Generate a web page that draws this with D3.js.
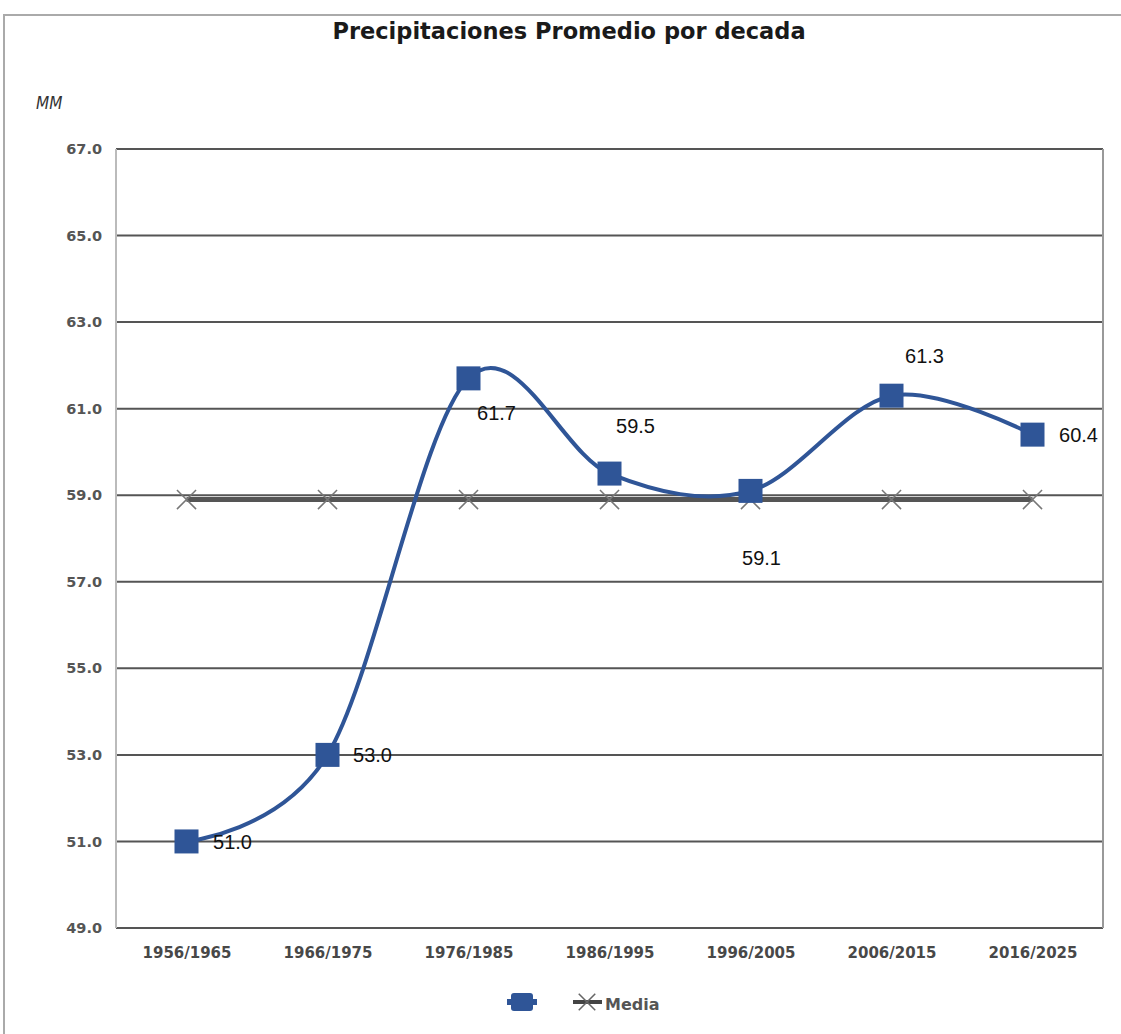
<!DOCTYPE html>
<html>
<head>
<meta charset="utf-8">
<script src="https://cdn.jsdelivr.net/npm/d3@7"></script>
<style>
    body { margin: 0; background: #fff; }
    svg { display: block; }
</style>
</head>
<body>
<div id="chart"></div>
<script>
const decades = ["1956/1965", "1966/1975", "1976/1985", "1986/1995", "1996/2005", "2006/2015", "2016/2025"];
const rainfall = [51.0, 53.0, 61.7, 59.5, 59.1, 61.3, 60.4];
const media = [58.9, 58.9, 58.9, 58.9, 58.9, 58.9, 58.9];
const yTicks = [49, 51, 53, 55, 57, 59, 61, 63, 65, 67];
// label offsets relative to the point (as placed in the original chart)
const labelDx = [46, 45, 28, 26, 11, 33, 46];
const labelDy = [8, 7, 42, -41, 74, -33, 7];

const W = 1121, H = 1034;
const margin = {top: 149, right: 18, bottom: 106, left: 116};
const width = W - margin.left - margin.right,
      height = H - margin.top - margin.bottom;

const svg = d3.select("#chart").append("svg")
    .attr("width", W)
    .attr("height", H);

// outer frame
svg.append("path")
    .attr("d", "M4,1034 V15 H1121")
    .attr("fill", "none")
    .attr("stroke", "#aaa")
    .attr("stroke-width", 2);

svg.append("text")
    .attr("x", 569)
    .attr("y", 39)
    .attr("text-anchor", "middle")
    .attr("font-family", "DejaVu Sans")
    .attr("font-weight", "bold")
    .attr("font-size", 22.5)
    .attr("fill", "#1a1a1a")
    .text("Precipitaciones Promedio por decada");

svg.append("text")
    .attr("x", 36)
    .attr("y", 109)
    .attr("font-family", "DejaVu Sans Condensed, DejaVu Sans")
    .attr("font-style", "italic")
    .attr("font-size", 17)
    .attr("fill", "#333")
    .text("MM");

const g = svg.append("g").attr("transform", "translate(" + margin.left + "," + margin.top + ")");

const xScale = d3.scalePoint()
    .domain(decades)
    .range([0, width])
    .padding(0.5);

const yScale = d3.scaleLinear()
    .domain([49, 67])
    .range([height, 0]);

// gridlines
g.append("g")
    .selectAll("line")
    .data(yTicks)
    .enter().append("line")
    .attr("x1", 0)
    .attr("x2", width)
    .attr("y1", (d) => yScale(d))
    .attr("y2", (d) => yScale(d))
    .attr("stroke", "#555")
    .attr("stroke-width", 2);

// plot frame
g.append("line").attr("x1", 0).attr("x2", 0).attr("y1", 0).attr("y2", height)
    .attr("stroke", "#bbb").attr("stroke-width", 2);
g.append("line").attr("x1", width).attr("x2", width).attr("y1", 0).attr("y2", height)
    .attr("stroke", "#999").attr("stroke-width", 2);

//Add the y Axis
let yAxis = g.append("g")
    .call(d3.axisLeft(yScale).tickValues(yTicks).tickFormat(d3.format(".1f")).tickSize(0).tickPadding(14));
yAxis.select(".domain").remove();
yAxis.selectAll("text")
    .attr("font-family", "DejaVu Sans")
    .attr("font-weight", "bold")
    .attr("font-size", 14.5)
    .attr("fill", "#555");

//Add the x Axis
let xAxis = g.append("g")
    .attr("transform", "translate(0," + height + ")")
    .call(d3.axisBottom(xScale).tickSize(0).tickPadding(19));
xAxis.select(".domain").remove();
xAxis.selectAll("text")
    .attr("font-family", "DejaVu Sans")
    .attr("font-weight", "bold")
    .attr("font-size", 15)
    .attr("fill", "#484848");

// media line
g.append("path")
    .datum(media)
    .attr("fill", "none")
    .attr("stroke", "#555")
    .attr("stroke-width", 5)
    .attr("d", d3.line().x((d, i) => xScale(decades[i])).y((d) => yScale(d)));

const cross = d3.symbol().type(d3.symbolTimes).size(240);
g.selectAll(".media-x")
    .data(media)
    .enter().append("path")
    .attr("class", "media-x")
    .attr("transform", (d, i) => "translate(" + xScale(decades[i]) + "," + yScale(d) + ")")
    .attr("d", cross)
    .attr("fill", "none")
    .attr("stroke", "#777")
    .attr("stroke-width", 1.5);

// rainfall curve
g.append("path")
    .datum(rainfall)
    .attr("fill", "none")
    .attr("stroke", "#2f5597")
    .attr("stroke-width", 4)
    .attr("d", d3.line().curve(d3.curveCardinal.tension(0))
        .x((d, i) => xScale(decades[i])).y((d) => yScale(d)));

g.selectAll(".pt")
    .data(rainfall)
    .enter().append("rect")
    .attr("class", "pt")
    .attr("x", (d, i) => xScale(decades[i]) - 12)
    .attr("y", (d) => yScale(d) - 12)
    .attr("width", 24)
    .attr("height", 24)
    .attr("fill", "#2f5597");

g.selectAll(".lbl")
    .data(rainfall)
    .enter().append("text")
    .attr("class", "lbl")
    .attr("x", (d, i) => xScale(decades[i]) + labelDx[i])
    .attr("y", (d, i) => yScale(d) + labelDy[i])
    .attr("text-anchor", "middle")
    .attr("font-family", "Liberation Sans, Arial")
    .attr("font-size", 20)
    .attr("fill", "#111")
    .text((d) => d3.format(".1f")(d));

// legend
let legend = svg.append("g").attr("transform", "translate(0,1002)");
legend.append("line").attr("x1", 507).attr("x2", 537).attr("y1", 0).attr("y2", 0)
    .attr("stroke", "#2f5597").attr("stroke-width", 6);
legend.append("rect").attr("x", 511).attr("y", -9).attr("width", 22).attr("height", 18)
    .attr("rx", 3).attr("fill", "#2f5597");
legend.append("line").attr("x1", 573).attr("x2", 602).attr("y1", 0).attr("y2", 0)
    .attr("stroke", "#444").attr("stroke-width", 4);
legend.append("path").attr("transform", "translate(587,0)")
    .attr("d", d3.symbol().type(d3.symbolTimes).size(180))
    .attr("fill", "none").attr("stroke", "#666").attr("stroke-width", 1.5);
legend.append("text")
    .attr("x", 605)
    .attr("y", 8)
    .attr("font-family", "DejaVu Sans")
    .attr("font-weight", "bold")
    .attr("font-size", 16)
    .attr("fill", "#555")
    .text("Media");
</script>
</body>
</html>
